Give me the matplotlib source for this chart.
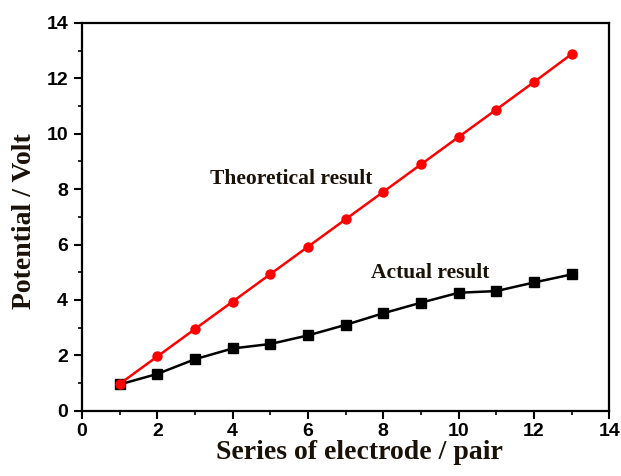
import numpy as np
import matplotlib
matplotlib.use("Agg")
import matplotlib.pyplot as plt
from matplotlib.ticker import MultipleLocator

# data
pairs = [1, 2, 3, 4, 5, 6, 7, 8, 9, 10, 11, 12, 13]
theoretical = [0.97, 1.96, 2.95, 3.94, 4.93, 5.92, 6.91, 7.90, 8.89, 9.88, 10.87, 11.86, 12.87]
actual = [0.95, 1.33, 1.86, 2.25, 2.41, 2.72, 3.10, 3.52, 3.90, 4.26, 4.32, 4.63, 4.92]

fig = plt.figure(figsize=(6.21, 4.76), dpi=100)
ax = fig.add_axes([0.132, 0.137, 0.849, 0.815])

ax.plot(pairs, actual, color="black", lw=1.8, marker="s", ms=6.5, zorder=2)
ax.plot(pairs, theoretical, color="red", lw=1.8, marker="o", ms=6.5, zorder=3)

ax.set_xlim(0, 14)
ax.set_ylim(0, 14)
ax.xaxis.set_major_locator(MultipleLocator(2))
ax.xaxis.set_minor_locator(MultipleLocator(1))
ax.yaxis.set_major_locator(MultipleLocator(2))
ax.yaxis.set_minor_locator(MultipleLocator(1))
ax.tick_params(which="major", direction="out", length=6, width=1.5, labelsize=14)
ax.tick_params(axis="y", which="major", pad=4)
ax.tick_params(axis="x", which="major", pad=3)
ax.tick_params(which="minor", direction="out", length=3, width=1.2)
for lab in ax.get_xticklabels() + ax.get_yticklabels():
    lab.set_family("Liberation Sans")
    lab.set_fontweight("bold")
for s in ax.spines.values():
    s.set_linewidth(1.6)

serif = dict(family="Liberation Serif", weight="bold", color="#1a1208")
ax.set_xlabel("Series of electrode / pair", fontsize=20, **serif)
ax.set_ylabel("Potential / Volt", fontsize=20, **serif)
ax.xaxis.set_label_coords(0.527, -0.075)
ax.yaxis.set_label_coords(-0.085, 0.488)

ax.text(5.55, 8.35, "Theoretical result", fontsize=15.5, ha="center", va="center", **serif)
ax.text(9.25, 4.98, "Actual result", fontsize=15.5, ha="center", va="center", **serif)

fig.savefig("out.png", dpi=100)
